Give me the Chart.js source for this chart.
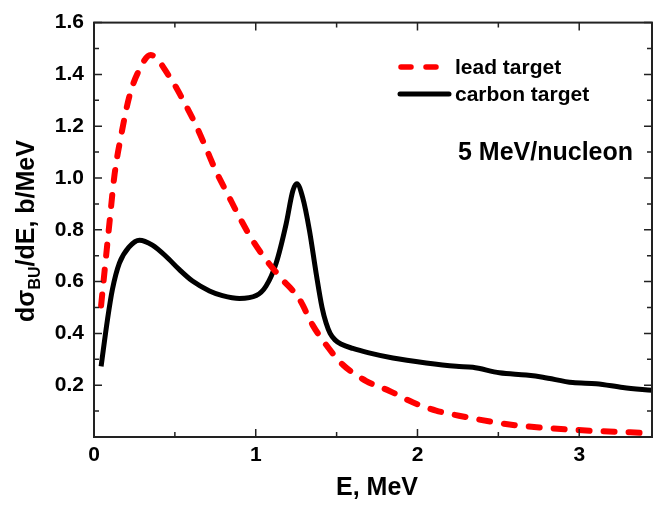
<!DOCTYPE html>
<html>
<head>
<meta charset="utf-8">
<script src="https://cdn.jsdelivr.net/npm/chart.js@4/dist/chart.umd.min.js"></script>
<style>
  html, body { margin: 0; padding: 0; background: #fff; }
  #wrap { width: 653px; height: 506px; }
</style>
</head>
<body>
<div id="wrap"><canvas id="c"></canvas></div>
<script>
// Breakup cross section
const leadE = [0.044, 0.095, 0.127, 0.168, 0.219, 0.27, 0.35, 0.466, 0.547, 0.631, 0.693, 0.755, 0.827, 0.899, 0.98, 1.064, 1.165, 1.27, 1.352, 1.435, 1.537, 1.683, 1.827, 1.97, 2.115, 2.3, 2.464, 2.61, 2.773, 2.94, 3.105, 3.25, 3.39, 3.45];
const leadSigma = [0.508, 0.823, 1.013, 1.165, 1.316, 1.405, 1.475, 1.392, 1.305, 1.203, 1.115, 1.025, 0.937, 0.849, 0.76, 0.684, 0.608, 0.532, 0.432, 0.356, 0.28, 0.216, 0.178, 0.134, 0.102, 0.077, 0.058, 0.045, 0.036, 0.029, 0.023, 0.02, 0.016, 0.015];

const carbonE = [0.044, 0.084, 0.114, 0.157, 0.219, 0.281, 0.361, 0.446, 0.528, 0.609, 0.714, 0.794, 0.899, 1.003, 1.064, 1.126, 1.188, 1.229, 1.254, 1.29, 1.332, 1.373, 1.41, 1.435, 1.46, 1.49, 1.53, 1.6, 1.7, 1.848, 2.054, 2.24, 2.342, 2.507, 2.672, 2.775, 2.96, 3.105, 3.27, 3.45];
const carbonSigma = [0.273, 0.456, 0.57, 0.671, 0.735, 0.76, 0.741, 0.697, 0.646, 0.602, 0.564, 0.546, 0.535, 0.546, 0.583, 0.671, 0.823, 0.95, 0.978, 0.925, 0.798, 0.634, 0.5, 0.44, 0.4, 0.375, 0.358, 0.342, 0.325, 0.305, 0.286, 0.273, 0.269, 0.248, 0.239, 0.231, 0.21, 0.206, 0.191, 0.18];

// ticks
const xMajor = [0, 1, 2, 3];
const xMinor = [0.5, 1.5, 2.5];
const yMajor = [0.2, 0.4, 0.6, 0.8, 1.0, 1.2, 1.4, 1.6];
const yMinor = [0.1, 0.3, 0.5, 0.7, 0.9, 1.1, 1.3, 1.5];

const FONT = "'Liberation Sans', Arial, sans-serif";
const AXIS_COLOR = '#222';

const toPoints = (xs, ys) => xs.map((x, i) => ({ x, y: ys[i] }));
const isMajor = (list, v) => list.some(m => Math.abs(m - v) < 1e-6);

// frame, inward ticks, legend and labels
const decor = {
  id: 'decor',
  afterDraw(chart) {
    const { ctx, chartArea: a, scales: { x, y } } = chart;
    ctx.save();
    ctx.strokeStyle = AXIS_COLOR;
    ctx.lineWidth = 2;
    ctx.strokeRect(a.left, a.top, a.right - a.left, a.bottom - a.top);

    ctx.lineWidth = 1.5;
    ctx.beginPath();
    xMajor.concat(xMinor).forEach(v => {
      const px = x.getPixelForValue(v);
      const len = isMajor(xMajor, v) ? 8 : 5;
      ctx.moveTo(px, a.bottom); ctx.lineTo(px, a.bottom - len);
      ctx.moveTo(px, a.top); ctx.lineTo(px, a.top + len);
    });
    yMajor.concat(yMinor).forEach(v => {
      const py = y.getPixelForValue(v);
      const len = isMajor(yMajor, v) ? 8 : 5;
      ctx.moveTo(a.left, py); ctx.lineTo(a.left + len, py);
      ctx.moveTo(a.right, py); ctx.lineTo(a.right - len, py);
    });
    ctx.stroke();

    // legend
    ctx.lineWidth = 5.5;
    ctx.lineCap = 'round';
    ctx.strokeStyle = '#ff0000';
    ctx.setLineDash([10, 15]);
    ctx.beginPath(); ctx.moveTo(401, 67); ctx.lineTo(441, 67); ctx.stroke();
    ctx.setLineDash([]);
    ctx.strokeStyle = '#000';
    ctx.lineWidth = 5;
    ctx.beginPath(); ctx.moveTo(400, 94); ctx.lineTo(449, 94); ctx.stroke();

    ctx.fillStyle = '#000';
    ctx.textAlign = 'left';
    ctx.textBaseline = 'alphabetic';
    ctx.font = 'bold 21px ' + FONT;
    ctx.fillText('lead target', 455, 74);
    ctx.fillText('carbon target', 455, 101);
    ctx.font = 'bold 25px ' + FONT;
    ctx.fillText('5 MeV/nucleon', 458, 160);

    // x title
    ctx.textAlign = 'center';
    ctx.font = 'bold 25px ' + FONT;
    ctx.fillText('E, MeV', 377, 495);

    // y title with subscript
    ctx.translate(34, 231);
    ctx.rotate(-Math.PI / 2);
    const p1 = 'd\u03c3', p2 = 'BU', p3 = '/dE, b/MeV';
    ctx.font = 'bold 25px ' + FONT;
    const w1 = ctx.measureText(p1).width, w3 = ctx.measureText(p3).width;
    ctx.font = 'bold 16px ' + FONT;
    const w2 = ctx.measureText(p2).width;
    let sx = -(w1 + w2 + w3) / 2;
    ctx.textAlign = 'left';
    ctx.font = 'bold 25px ' + FONT;
    ctx.fillText(p1, sx, 0); sx += w1;
    ctx.font = 'bold 16px ' + FONT;
    ctx.fillText(p2, sx, 6); sx += w2;
    ctx.font = 'bold 25px ' + FONT;
    ctx.fillText(p3, sx, 0);
    ctx.restore();
  }
};

new Chart(document.getElementById('c'), {
  type: 'line',
  data: {
    datasets: [
      {
        label: 'lead target',
        data: toPoints(leadE, leadSigma),
        borderColor: '#ff0000',
        borderWidth: 6,
        borderDash: [11, 14],
        borderCapStyle: 'round',
        cubicInterpolationMode: 'monotone',
        pointRadius: 0,
        fill: false
      },
      {
        label: 'carbon target',
        data: toPoints(carbonE, carbonSigma),
        borderColor: '#000000',
        borderWidth: 5,
        cubicInterpolationMode: 'monotone',
        pointRadius: 0,
        fill: false
      }
    ]
  },
  options: {
    responsive: true,
    maintainAspectRatio: false,
    animation: false,
    layout: { padding: { top: 15, right: 1, left: 0, bottom: 0 } },
    plugins: { legend: { display: false }, tooltip: { enabled: false } },
    scales: {
      x: {
        type: 'linear',
        min: 0,
        max: 3.45,
        grid: { display: false, drawTicks: false },
        border: { display: false },
        afterFit: s => { s.height = 69; },
        afterBuildTicks: s => { s.ticks = xMajor.map(v => ({ value: v })); },
        ticks: {
          color: '#000',
          padding: 6,
          font: { family: FONT, size: 21, weight: 'bold' },
          callback: v => String(v)
        }
      },
      y: {
        min: 0,
        max: 1.6,
        grid: { display: false, drawTicks: false },
        border: { display: false },
        afterFit: s => { s.width = 94; },
        afterBuildTicks: s => { s.ticks = yMajor.map(v => ({ value: v })); },
        ticks: {
          color: '#000',
          padding: 10,
          font: { family: FONT, size: 21, weight: 'bold' },
          callback: v => v.toFixed(1)
        }
      }
    }
  },
  plugins: [decor]
});
</script>
</body>
</html>
